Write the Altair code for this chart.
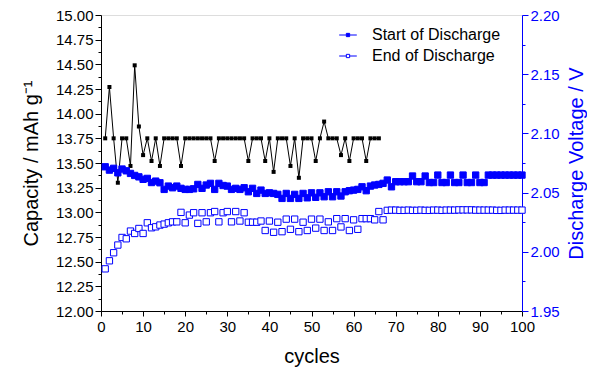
import altair as alt
import pandas as pd

# ---------------- data ----------------
cap_cycles = list(range(1, 67))
capacity = [
    13.75, 14.27, 13.75, 13.30, 13.75, 13.75, 13.47, 14.49, 13.87, 13.58,
    13.75, 13.52, 13.75, 13.47, 13.75, 13.75, 13.75, 13.75, 13.47, 13.75,
    13.75, 13.75, 13.75, 13.75, 13.75, 13.75, 13.52, 13.75, 13.75, 13.75,
    13.75, 13.75, 13.75, 13.75, 13.52, 13.75, 13.75, 13.75, 13.52, 13.75,
    13.41, 13.75, 13.75, 13.75, 13.47, 13.75, 13.35, 13.75, 13.75, 13.75,
    13.52, 13.75, 13.92, 13.75, 13.75, 13.75, 13.58, 13.75, 13.52, 13.75,
    13.75, 13.75, 13.52, 13.75, 13.75, 13.75,
]

v_cycles = list(range(1, 101))
v_start = [
    2.0718, 2.0690, 2.0705, 2.0667, 2.0699, 2.0684, 2.0662, 2.0645, 2.0633, 2.0612,
    2.0620, 2.0585, 2.0597, 2.0583, 2.0527, 2.0555, 2.0541, 2.0555, 2.0536, 2.0527,
    2.0527, 2.0532, 2.0569, 2.0536, 2.0564, 2.0578, 2.0527, 2.0578, 2.0560, 2.0555,
    2.0527, 2.0536, 2.0527, 2.0541, 2.0507, 2.0536, 2.0493, 2.0521, 2.0493, 2.0498,
    2.0493, 2.0485, 2.0451, 2.0493, 2.0451, 2.0485, 2.0451, 2.0493, 2.0456, 2.0498,
    2.0460, 2.0498, 2.0465, 2.0507, 2.0465, 2.0507, 2.0471, 2.0507, 2.0516, 2.0521,
    2.0527, 2.0549, 2.0516, 2.0555, 2.0564, 2.0569, 2.0578, 2.0606, 2.0549, 2.0592,
    2.0592, 2.0592, 2.0592, 2.0640, 2.0592, 2.0592, 2.0640, 2.0585, 2.0585, 2.0648,
    2.0585, 2.0585, 2.0648, 2.0585, 2.0585, 2.0648, 2.0585, 2.0585, 2.0648, 2.0585,
    2.0585, 2.0648, 2.0648, 2.0648, 2.0648, 2.0648, 2.0648, 2.0648, 2.0648, 2.0648,
]
v_end = [
    1.9856, 1.9924, 1.9992, 2.0057, 2.0121, 2.0110, 2.0175, 2.0155, 2.0197, 2.0155,
    2.0245, 2.0203, 2.0211, 2.0226, 2.0234, 2.0245, 2.0253, 2.0253, 2.0333, 2.0245,
    2.0310, 2.0330, 2.0240, 2.0330, 2.0253, 2.0330, 2.0340, 2.0253, 2.0330, 2.0340,
    2.0253, 2.0340, 2.0260, 2.0330, 2.0250, 2.0250, 2.0250, 2.0260, 2.0180, 2.0260,
    2.0165, 2.0250, 2.0170, 2.0276, 2.0190, 2.0276, 2.0170, 2.0250, 2.0180, 2.0276,
    2.0200, 2.0276, 2.0180, 2.0253, 2.0180, 2.0280, 2.0210, 2.0280, 2.0180, 2.0270,
    2.0190, 2.0280, 2.0280, 2.0280, 2.0270, 2.0340, 2.0270, 2.0350, 2.0352, 2.0352,
    2.0350, 2.0350, 2.0352, 2.0350, 2.0350, 2.0352, 2.0350, 2.0350, 2.0352, 2.0352,
    2.0350, 2.0352, 2.0352, 2.0352, 2.0354, 2.0354, 2.0354, 2.0354, 2.0352, 2.0352,
    2.0352, 2.0352, 2.0352, 2.0350, 2.0350, 2.0352, 2.0352, 2.0352, 2.0352, 2.0352,
]

series_names = ["Start of Discharge", "End of Discharge"]
x_ticks = list(range(0, 101, 5))
cap_ticks = [round(12 + 0.125 * i, 3) for i in range(25)]
volt_ticks = [round(1.95 + 0.025 * i, 3) for i in range(11)]

cap_df = pd.DataFrame({"cycle": cap_cycles, "capacity": capacity})
volt_df = pd.DataFrame({
    "cycle": v_cycles * 2,
    "voltage": v_start + v_end,
    "series": [series_names[0]] * len(v_cycles) + [series_names[1]] * len(v_cycles),
})

FONT = "Liberation Sans"
BLUE = "#0000ff"

x_axis = alt.Axis(
    title="cycles", values=x_ticks,
    labelExpr="datum.value % 10 == 0 ? datum.label : ''",
    tickSize={"condition": {"test": "datum.value % 10 != 0", "value": 3}, "value": 5},
    grid=False, labelOverlap=False, labelFlush=False,
    domainColor="black", tickColor="black", labelColor="black", titleColor="black",
    labelFontSize=15, titleFontSize=20, titleFontWeight="normal",
    labelFont=FONT, titleFont=FONT, titlePadding=12, labelPadding=3,
)

x_enc = alt.X("cycle:Q", scale=alt.Scale(domain=[0, 100], nice=False), axis=x_axis)

cap_axis = alt.Axis(
    title="Capacity / mAh g⁻¹", values=cap_ticks, orient="left",
    labelExpr="abs(datum.value*4-round(datum.value*4)) < 0.01 ? format(datum.value, '.2f') : ''",
    tickSize={"condition": {"test": "abs(datum.value*4-round(datum.value*4)) > 0.01", "value": 3}, "value": 6},
    grid=False, labelOverlap=False, labelFlush=False,
    domainColor="black", tickColor="black", labelColor="black", titleColor="black",
    labelFontSize=15, titleFontSize=20, titleFontWeight="normal",
    labelFont=FONT, titleFont=FONT, titlePadding=14, labelPadding=2,
)

volt_axis = alt.Axis(
    title="Discharge Voltage / V", values=volt_ticks, orient="right",
    labelExpr="abs(datum.value*20-round(datum.value*20)) < 0.01 ? format(datum.value, '.2f') : ''",
    tickSize={"condition": {"test": "abs(datum.value*20-round(datum.value*20)) > 0.01", "value": 3}, "value": 6},
    grid=False, labelOverlap=False, labelFlush=False,
    domainColor=BLUE, tickColor=BLUE, labelColor=BLUE, titleColor=BLUE,
    labelFontSize=15, titleFontSize=20, titleFontWeight="normal",
    labelFont=FONT, titleFont=FONT, titlePadding=7, labelPadding=2,
    titleAngle=270, titleBaseline="top",
)

cap_y = alt.Y("capacity:Q", scale=alt.Scale(domain=[12, 15], nice=False), axis=cap_axis)

cap_line = alt.Chart(cap_df).mark_line(color="black", strokeWidth=1).encode(x=x_enc, y=cap_y)
cap_pts = alt.Chart(cap_df).mark_square(color="black", size=16, opacity=1).encode(x=x_enc, y=cap_y)
cap_layer = alt.layer(cap_line, cap_pts)

legend = alt.Legend(
    title=None, orient="none", legendX=239, legendY=12, padding=0,
    symbolType="M-1.6,0H-0.3M0.3,0H1.6M-0.3,-0.3H0.3V0.3H-0.3Z",
    symbolSize=121, symbolStrokeColor=BLUE, symbolStrokeWidth=1,
    labelFont=FONT, labelFontSize=16, labelColor="black", labelOffset=16,
    rowPadding=5, labelLimit=300,
)

volt_pts = alt.Chart(volt_df).mark_point(
    shape="square", size=40, stroke=BLUE, strokeWidth=1, opacity=1, fillOpacity=1
).encode(
    x=x_enc,
    y=alt.Y("voltage:Q", scale=alt.Scale(domain=[1.95, 2.20], nice=False), axis=volt_axis),
    fill=alt.Fill("series:N", scale=alt.Scale(domain=series_names, range=[BLUE, "#ffffff"]),
                  sort=series_names, legend=legend),
)

chart = alt.layer(cap_layer, volt_pts).resolve_scale(y="independent").properties(
    width=421, height=296,
    autosize=alt.AutoSizeParams(type="none"),
    padding={"left": 93, "top": 7, "right": 65, "bottom": 60},
).configure_view(stroke=None).configure(background="white")

chart.save("out.html", embed_options={"renderer": "svg", "actions": False})
